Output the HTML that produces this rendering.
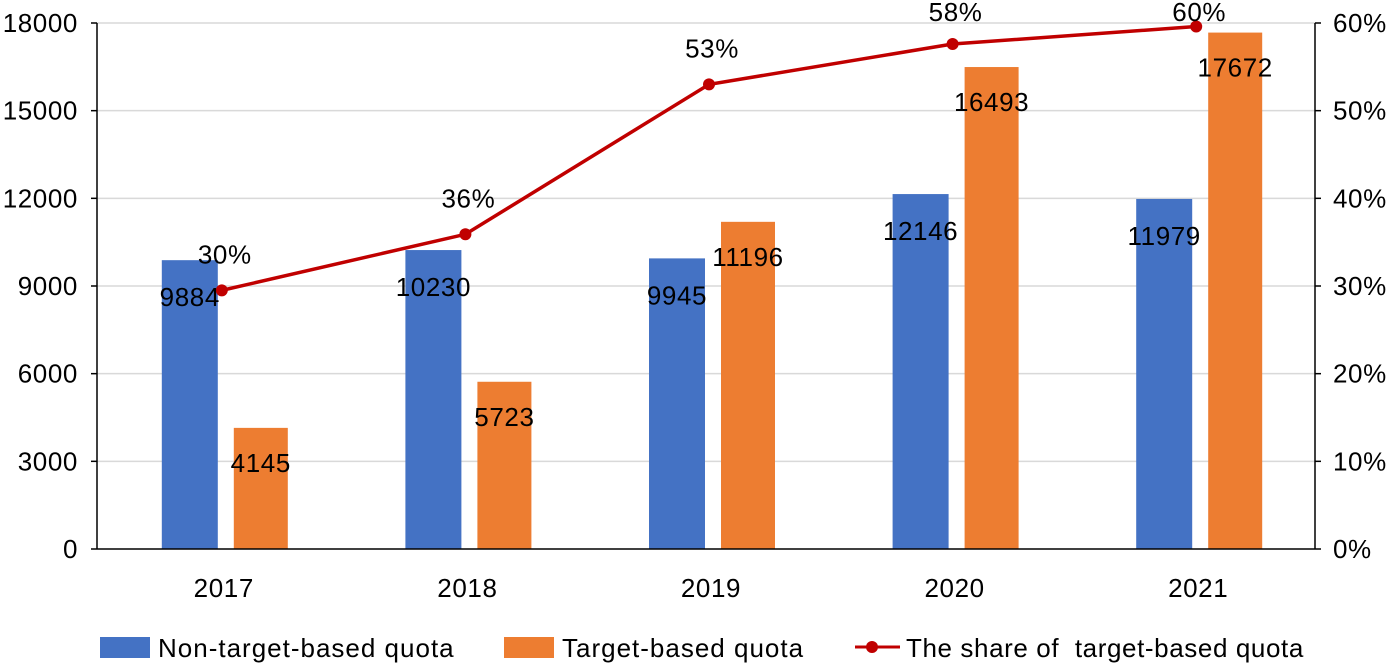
<!DOCTYPE html>
<html><head><meta charset="utf-8"><style>
body{margin:0;background:#fff;}
svg{display:block;font-family:"Liberation Sans",Calibri,sans-serif;}
svg text{letter-spacing:0.6px;}
</style></head><body>
<svg id="chart" width="1400" height="665">
<g id="grid"></g><g id="bars"></g><g id="line"></g><g id="axes"></g><g id="labels"></g>
<g id="legend">
 <rect x="100" y="637" width="50" height="21" fill="#4472c4"/>
 <text x="158" y="657" font-size="26" style="letter-spacing:1px" fill="#000">Non-target-based quota</text>
 <rect x="504" y="637" width="50" height="21" fill="#ed7d31"/>
 <text x="562" y="657" font-size="26" style="letter-spacing:1px" fill="#000">Target-based quota</text>
 <line x1="855" y1="647" x2="900" y2="647" stroke="#c00000" stroke-width="3"/>
 <circle cx="872" cy="647" r="6" fill="#c00000"/>
 <text x="906" y="657" font-size="26" style="letter-spacing:0.6px" fill="#000">The share of&#160; target-based quota</text>
</g>
</svg>
<script>
const categories=["2017","2018","2019","2020","2021"];
const nonTarget=[9884,10230,9945,12146,11979];
const target=[4145,5723,11196,16493,17672];
const share=[29.5,35.9,53.0,57.6,59.6];
const shareLabels=["30%","36%","53%","58%","60%"];
const leftTicks=[0,3000,6000,9000,12000,15000,18000];
const rightTicks=["0%","10%","20%","30%","40%","50%","60%"];

const NS="http://www.w3.org/2000/svg";
const L=97,R=1315,T=23,B=549;
const band=(R-L)/categories.length;
const xc=i=>L+5+band*(i+0.5);
const y=v=>B-(v/18000)*(B-T);
const yp=p=>B-(p/60)*(B-T);
function mk(tag,attrs,parent,text){const e=document.createElementNS(NS,tag);for(const k in attrs)e.setAttribute(k,attrs[k]);if(text!=null)e.textContent=text;document.getElementById(parent).appendChild(e);return e;}

leftTicks.forEach((t,i)=>{
 if(t>0){const g=mk('line',{x1:L,x2:R,y1:y(t),y2:y(t),stroke:'#d9d9d9','stroke-width':1.5},'grid');
 
 }
 const tl=mk('text',{x:78,y:y(t)+9,'font-size':26,'text-anchor':'end'},'axes',String(t));
 
 
 const tr=mk('text',{x:1333,y:y(t)+9,'font-size':26},'axes',rightTicks[i]);
 
 
 const tk=mk('line',{x1:L-6,x2:L,y1:y(t),y2:y(t),stroke:'#000','stroke-width':1.5},'axes');
 
 
 const tk2=mk('line',{x1:R,x2:R+6,y1:y(t),y2:y(t),stroke:'#000','stroke-width':1.5},'axes');
 
 
});
[[L,T,L,B],[R,T,R,B],[L,B,R,B]].forEach(a=>{
 const ax=mk('line',{x1:a[0],y1:a[1],x2:a[2],y2:a[3],stroke:'#000','stroke-width':1.5},'axes');
 
 
});
categories.forEach((c,i)=>{
 const cx=xc(i);
 const xl=mk('text',{x:cx,y:597,'font-size':26,'text-anchor':'middle'},'axes',c);
 
 
 const b1=mk('rect',{x:cx-62,y:y(nonTarget[i]),width:56,height:B-y(nonTarget[i]),fill:'#4472c4'},'bars');
 
 
 const b2=mk('rect',{x:cx+10,y:y(target[i]),width:54,height:B-y(target[i]),fill:'#ed7d31'},'bars');
 
 
 const v1=mk('text',{x:cx-34,y:y(nonTarget[i])+46,'font-size':26,'text-anchor':'middle'},'labels',String(nonTarget[i]));
 
 
 const v2=mk('text',{x:cx+37,y:y(target[i])+44,'font-size':26,'text-anchor':'middle'},'labels',String(target[i]));
 
 
});
const pts=share.map((s,i)=>[xc(i)-2,yp(s)]);
const pl=mk('polyline',{points:pts.map(p=>p.join(',')).join(' '),fill:'none',stroke:'#c00000','stroke-width':3.5},'line');


pts.forEach((p,i)=>{
 const c=mk('circle',{cx:p[0],cy:p[1],r:6,fill:'#c00000'},'line');
 
 
 const t=mk('text',{x:p[0]+3,y:Math.max(p[1]-27,21),'font-size':26,'text-anchor':'middle'},'labels',shareLabels[i]);
 
 
});
</script>
</body></html>
